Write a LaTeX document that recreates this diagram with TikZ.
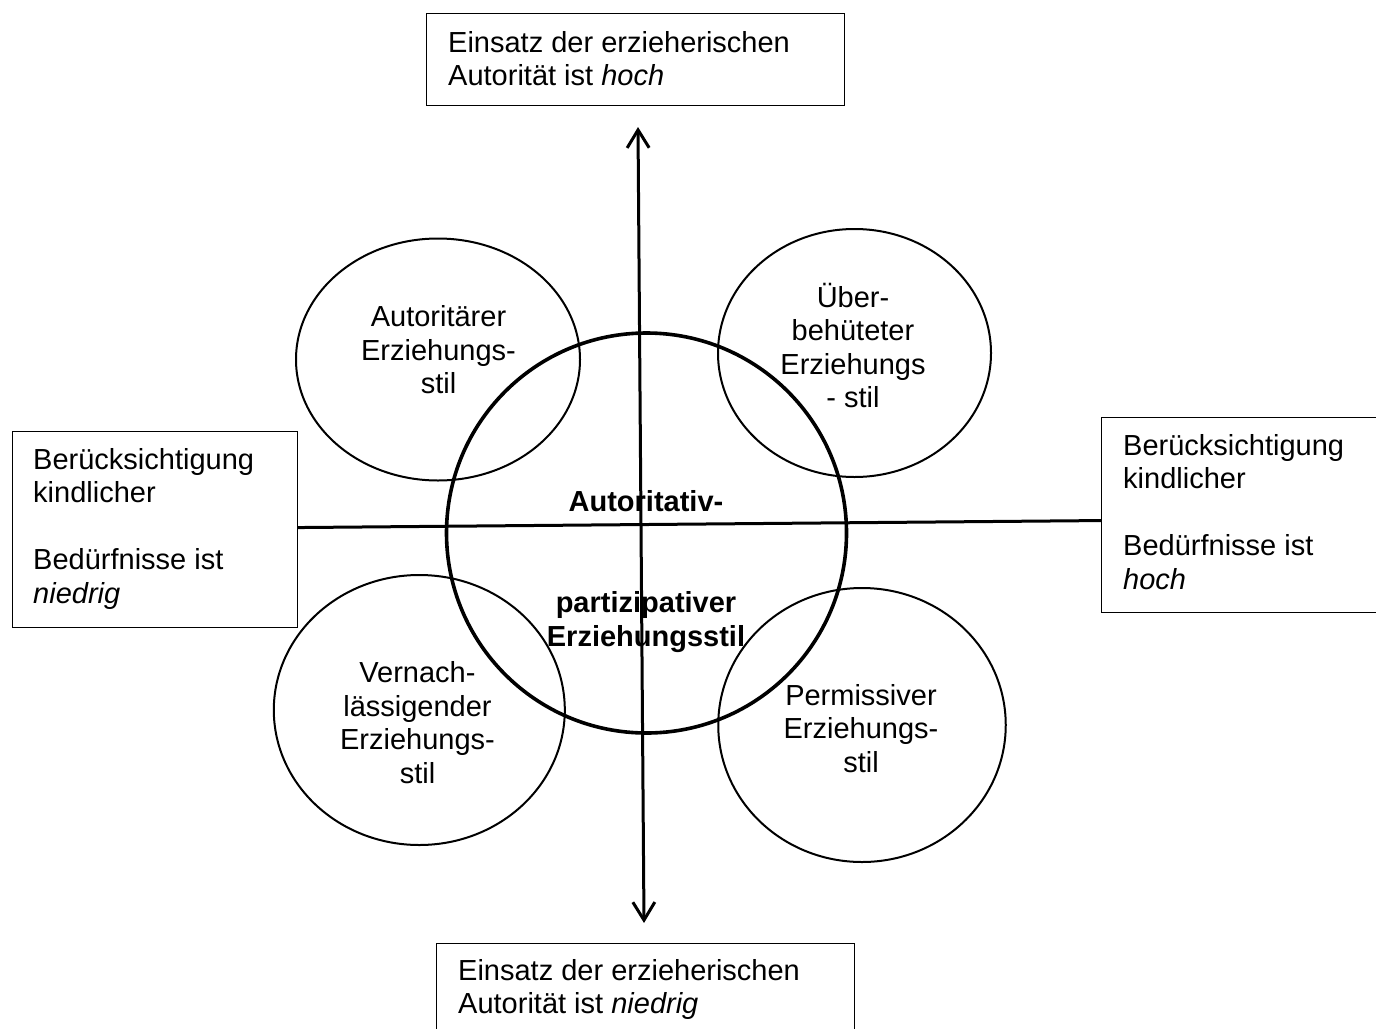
\documentclass[tikz,border=0pt]{standalone}
\usepackage{fontspec}
\setmainfont{Liberation Sans}
\usetikzlibrary{arrows.meta,shapes.geometric}
% fixed-height strut so multi-line nodes have a predictable box
\newcommand\lnstrut{\rule[-9pt]{0pt}{36pt}}
\begin{document}
\begin{tikzpicture}[x=1pt,y=-1pt,
  frame/.style={draw, line width=1.1pt, rectangle, inner sep=0pt, anchor=north west},
  stylecirc/.style={draw, ellipse, line width=2pt, inner sep=0pt},
  txt/.style={inner sep=0pt, font=\fontsize{29}{33.5}\selectfont,
    execute at begin node=\lnstrut, execute at end node=\lnstrut},
  boxtxt/.style={txt, align=left, anchor=north west},
  circtxt/.style={txt, align=center},
  axis/.style={line width=3pt},
  >={Straight Barb[length=18pt,width=22pt]}
]
\useasboundingbox (0,0) rectangle (1376,1028);
\fill[white] (0,0) rectangle (1376,1028);
\clip (0,0) rectangle (1376,1028);

% four parenting styles
\node[stylecirc, minimum width=284pt, minimum height=242pt] (authoritarian) at (438,359.5) {};
\node[stylecirc, minimum width=273pt, minimum height=248pt] (overprotective) at (854.5,353) {};
\node[stylecirc, minimum width=291pt, minimum height=270pt] (neglectful) at (419.3,710) {};
\node[stylecirc, minimum width=287.5pt, minimum height=274pt] (permissive) at (862,725) {};

% central style
\node[draw, circle, line width=3.6pt, minimum size=400pt, inner sep=0pt] (core) at (646.5,533) {};

\node[circtxt] (authoritariantxt) at (438.5,354) {Autoritärer\\Erziehungs-\\stil};
\node[circtxt] (overprotectivetxt) at (853,350) {Über-\\behüteter\\Erziehungs\\- stil};
\node[circtxt] (neglectfultxt) at (417.5,727) {Vernach-\\lässigender\\Erziehungs-\\stil};
\node[circtxt] (permissivetxt) at (861,732.5) {Permissiver\\Erziehungs-\\stil};
\node[circtxt, font=\fontsize{29}{33.75}\selectfont\bfseries] (coretxt) at (646,572.5)
  {Autoritativ-\\\mbox{}\\\mbox{}\\partizipativer\\Erziehungsstil};

% axis end labels
\node[frame, minimum width=418pt, minimum height=92pt] (topbox) at (426,13) {};
\node[boxtxt, font=\fontsize{29}{33}\selectfont] (toptxt) at (448,31)
  {Einsatz der erzieherischen\\Autorität ist \textit{hoch}};

\node[frame, minimum width=418pt, minimum height=140pt] (botbox) at (436,942.5) {};
\node[boxtxt, font=\fontsize{29}{33.5}\selectfont] (bottxt) at (458,959)
  {Einsatz der erzieherischen\\Autorität ist \textit{niedrig}};

\node[frame, minimum width=285pt, minimum height=196pt] (leftbox) at (12,431) {};
\node[boxtxt] (lefttxt) at (33,448)
  {Berücksichtigung\\kindlicher\\\mbox{}\\Bedürfnisse ist\\\textit{niedrig}};

\node[frame, minimum width=300pt, minimum height=195pt] (rightbox) at (1101,417) {};
\node[boxtxt] (righttxt) at (1123,434)
  {Berücksichtigung\\kindlicher\\\mbox{}\\Bedürfnisse ist\\\textit{hoch}};

% axes
\draw[axis] ([yshift=2pt]leftbox.east) -- ([yshift=-5.5pt]rightbox.west);
\coordinate (vtop) at (638,127);
\coordinate (vbot) at (644,923);
\draw[axis, <->] (vtop) -- (vbot);
\end{tikzpicture}
\end{document}
